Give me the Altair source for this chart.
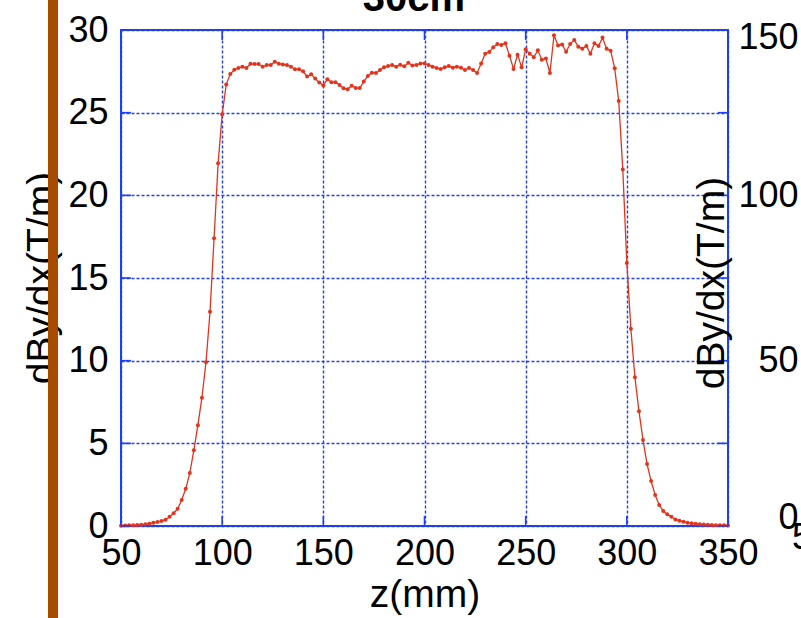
import altair as alt
import pandas as pd

# ---------------- data ----------------
z_mm = list(range(50, 351, 2))
dbydx = [
    # 50 - 102
    0.02, 0.03, 0.04, 0.05, 0.06, 0.08, 0.10, 0.14, 0.20, 0.24,
    0.30, 0.38, 0.56, 0.77, 1.04, 1.57, 2.25, 3.20, 4.58, 6.10,
    7.76, 9.90, 12.96, 17.40, 21.94, 24.90, 26.70,
    # 104 - 226
    27.34, 27.60, 27.70, 27.78, 27.70, 27.96, 27.94, 27.94, 27.78, 27.88,
    27.88, 28.08, 27.96, 27.92, 27.88, 27.78, 27.62, 27.62, 27.50, 27.18,
    27.32, 27.06, 26.82, 26.65, 27.02, 26.84, 26.84, 26.67, 26.47, 26.41,
    26.63, 26.49, 26.49, 26.88, 27.22, 27.42, 27.40, 27.58, 27.74, 27.82,
    27.88, 27.78, 27.90, 27.80, 28.02, 27.86, 27.88, 27.98, 27.98, 27.88,
    27.78, 27.70, 27.64, 27.74, 27.82, 27.72, 27.78, 27.72, 27.58, 27.70,
    27.58, 27.40,
    # 228 - 288
    27.98, 28.57, 28.67, 28.95, 29.15, 29.09, 29.20, 28.45, 27.64, 28.51,
    27.74, 28.83, 28.57, 28.35, 28.77, 28.20, 28.27, 27.40, 29.68, 29.07,
    29.13, 28.69, 29.15, 29.40, 28.99, 28.87, 29.03, 28.57, 29.20, 29.03,
    29.54,
    # 290 - 350
    28.87, 28.75, 27.68, 25.70, 21.57, 15.90, 11.93, 8.99, 6.94, 5.20,
    3.75, 2.72, 1.88, 1.27, 0.91, 0.71, 0.56, 0.40, 0.32, 0.25,
    0.20, 0.16, 0.13, 0.11, 0.09, 0.08, 0.06, 0.05, 0.04, 0.04,
    0.03,
]
x_ticks = [50, 100, 150, 200, 250, 300, 350]
y_ticks = [0, 5, 10, 15, 20, 25, 30]
right_ticks = [0, 50, 100, 150]
chart_title = ["30cm"]
y_title = ["dBy/dx(T/m)"]
x_title = "z(mm)"
stray_label = ["50"]

# ---------------- styling ----------------
W, H = 607, 496
BLUE = "#1f3ff5"
RED = "#e4331c"
BROWN = "#a64b00"
FONT = "Liberation Sans"

curve = pd.DataFrame({"z": z_mm, "g": dbydx})


def xs():
    return alt.Scale(domain=[50, 350], nice=False, zero=False)


def ys():
    return alt.Scale(domain=[0, 30], nice=False, zero=False)


x_axis = alt.Axis(
    values=x_ticks, grid=True, gridColor=BLUE, gridDash=[3, 2], gridWidth=1.4,
    gridOpacity=1, ticks=False, domain=False, labelFont=FONT, labelFontSize=36,
    labelColor="black", labelPadding=10, labelOverlap=False, labelFlush=False,
    title=x_title, titleFont=FONT, titleFontSize=39, titleFontWeight="normal",
    titleColor="black", titleY=80, titleBaseline="alphabetic",
)
y_axis = alt.Axis(
    values=y_ticks, grid=True, gridColor=BLUE, gridDash=[3, 2], gridWidth=1.4,
    gridOpacity=1, ticks=False, domain=False, labelFont=FONT, labelFontSize=36,
    labelColor="black", labelPadding=13, labelOverlap=False, labelFlush=False,
    title=None,
)

line = alt.Chart(curve).mark_line(color=RED, strokeWidth=1.3).encode(
    x=alt.X("z:Q", scale=xs(), axis=x_axis),
    y=alt.Y("g:Q", scale=ys(), axis=y_axis),
)
pts = alt.Chart(curve).mark_point(filled=True, color=RED, size=16, opacity=1).encode(
    x=alt.X("z:Q", scale=xs(), axis=None),
    y=alt.Y("g:Q", scale=ys(), axis=None),
)

xt = pd.DataFrame({"t": x_ticks})
yt = pd.DataFrame({"t": y_ticks})
tick_bottom = alt.Chart(xt).mark_rule(color=BLUE, strokeWidth=1.6).encode(
    x=alt.X("t:Q", scale=xs(), axis=None), y=alt.value(H), y2=alt.value(H - 10))
tick_top = alt.Chart(xt).mark_rule(color=BLUE, strokeWidth=1.6).encode(
    x=alt.X("t:Q", scale=xs(), axis=None), y=alt.value(0), y2=alt.value(10))
tick_left = alt.Chart(yt).mark_rule(color=BLUE, strokeWidth=1.6).encode(
    y=alt.Y("t:Q", scale=ys(), axis=None), x=alt.value(0), x2=alt.value(10))
tick_right = alt.Chart(yt).mark_rule(color=BLUE, strokeWidth=1.6).encode(
    y=alt.Y("t:Q", scale=ys(), axis=None), x=alt.value(W), x2=alt.value(W - 10))

right_axis = alt.Chart(pd.DataFrame({"r": right_ticks})).mark_point(opacity=0).encode(
    x=alt.value(0),
    y=alt.Y("r:Q", scale=alt.Scale(domain=[0, 150], nice=False, zero=False),
            axis=alt.Axis(orient="right", values=right_ticks, grid=False, ticks=False,
                          domain=False, labelFont=FONT, labelFontSize=36,
                          labelColor="black", labelAlign="right", labelPadding=70,
                          labelFlush=True, labelFlushOffset=10, labelOverlap=False,
                          title=None)),
)

ytitle_left = alt.Chart(pd.DataFrame({"t": y_title})).mark_text(
    angle=270, font=FONT, fontSize=39, color="black", align="center", baseline="middle"
).encode(text="t:N", x=alt.value(-79), y=alt.value(248))
ytitle_right = alt.Chart(pd.DataFrame({"t": y_title})).mark_text(
    angle=270, font=FONT, fontSize=39, color="black", align="center", baseline="middle"
).encode(text="t:N", x=alt.value(591), y=alt.value(253))
title = alt.Chart(pd.DataFrame({"t": chart_title})).mark_text(
    font=FONT, fontSize=40, fontWeight="bold", color="black", align="center",
    baseline="alphabetic"
).encode(text="t:N", x=alt.value(293), y=alt.value(-19))
stray = alt.Chart(pd.DataFrame({"t": stray_label})).mark_text(
    font=FONT, fontSize=36, color="black", align="left", baseline="middle"
).encode(text="t:N", x=alt.value(671), y=alt.value(508))
bar = alt.Chart(pd.DataFrame({"b": [0]})).mark_rect(color=BROWN).encode(
    x=alt.value(-73), x2=alt.value(-63), y=alt.value(-30), y2=alt.value(H + 92))

chart = alt.layer(
    line, pts, tick_bottom, tick_top, tick_left, tick_right,
    right_axis, ytitle_left, ytitle_right, title, stray, bar
).resolve_scale(x="independent", y="independent").properties(
    width=W, height=H,
    autosize=alt.AutoSizeParams(type="none"),
    padding={"left": 121, "top": 30, "right": 73, "bottom": 92},
    background="white",
).configure_view(stroke=BLUE, strokeWidth=2)

chart.save("out.html", embed_options={"renderer": "svg", "actions": False})
